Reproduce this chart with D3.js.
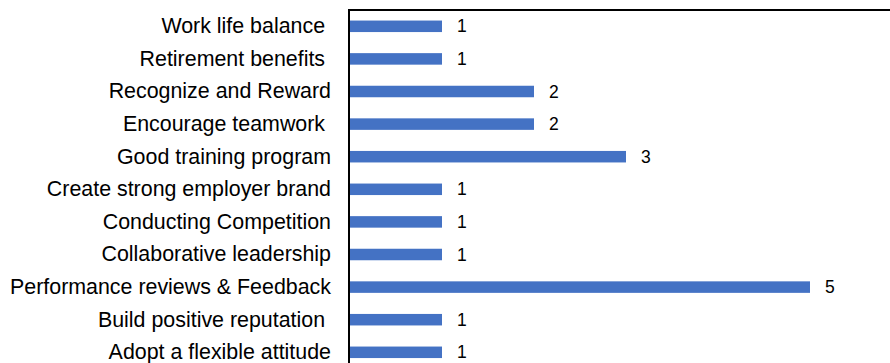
<!DOCTYPE html>
<html>
<head>
<meta charset="utf-8">
<script src="https://cdn.jsdelivr.net/npm/d3@7"></script>
<style>
  html, body { margin: 0; padding: 0; background: #ffffff; overflow: hidden; }
  svg { display: block; }
  text { font-family: "Liberation Sans", Arial, sans-serif; fill: #000000; white-space: pre; }
</style>
</head>
<body>
<svg id="chart" width="890" height="363"></svg>
<script>
const categories = [
  "Work life balance ",
  "Retirement benefits ",
  "Recognize and Reward",
  "Encourage teamwork ",
  "Good training program",
  "Create strong employer brand",
  "Conducting Competition",
  "Collaborative leadership",
  "Performance reviews & Feedback",
  "Build positive reputation ",
  "Adopt a flexible attitude"
];
const values = [1, 1, 2, 2, 3, 1, 1, 1, 5, 1, 1];
const xDomain = [0, 5];

const svg = d3.select("#chart");
const plot = { left: 349, top: 10, right: 900, bottom: 368.6 };

const x = d3.scaleLinear().domain(xDomain).range([350, 810]);
const y = d3.scaleBand().domain(categories).range([plot.top, plot.bottom])
  .paddingInner(0.647).paddingOuter(0.3235);

// bars
svg.append("g").selectAll("rect")
  .data(categories)
  .join("rect")
  .attr("x", x(0))
  .attr("y", (d) => y(d))
  .attr("width", (d, i) => x(values[i]) - x(0))
  .attr("height", y.bandwidth())
  .attr("fill", "#4472C4");

// value labels
svg.append("g").selectAll("text")
  .data(categories)
  .join("text")
  .attr("x", (d, i) => x(values[i]) + 15)
  .attr("y", (d) => y(d) + y.bandwidth() / 2)
  .attr("dy", "0.35em")
  .attr("font-size", 17.5)
  .text((d, i) => values[i]);

// category axis
const yAxis = d3.axisLeft(y).tickSize(0).tickPadding(18);
const gy = svg.append("g").attr("transform", `translate(${plot.left},0)`).call(yAxis);
gy.select(".domain").remove();
gy.selectAll("text")
  .attr("font-size", 21.4)
  .attr("font-family", "Liberation Sans, Arial, sans-serif")
  .attr("fill", "#000");

// frame lines
svg.append("line").attr("x1", plot.left).attr("x2", plot.right)
  .attr("y1", plot.top).attr("y2", plot.top)
  .attr("stroke", "#000").attr("stroke-width", 2);
svg.append("line").attr("x1", plot.left).attr("x2", plot.left)
  .attr("y1", plot.top - 1).attr("y2", plot.bottom)
  .attr("stroke", "#000").attr("stroke-width", 2);
</script>
</body>
</html>
